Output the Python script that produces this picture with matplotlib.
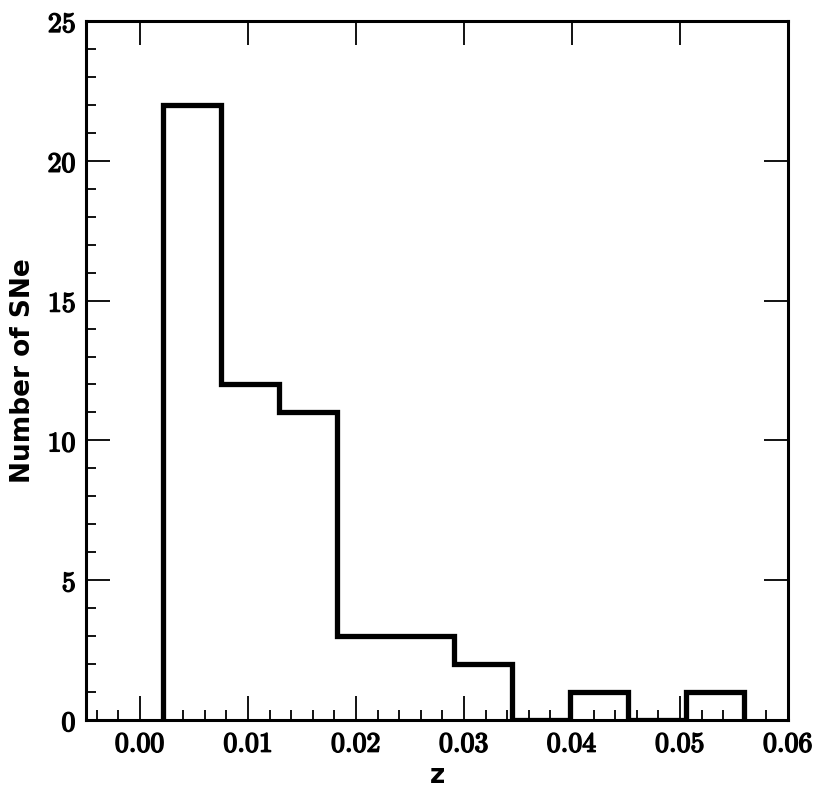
import matplotlib
matplotlib.use("Agg")
import matplotlib.pyplot as plt
import matplotlib.patheffects as pe
from matplotlib.ticker import MultipleLocator, FuncFormatter

plt.rcParams['mathtext.fontset'] = 'cm'

# Data
bin_edges = [0.00216, 0.00753, 0.01291, 0.01828, 0.02366, 0.02903,
             0.03440, 0.03978, 0.04515, 0.05053, 0.05590]
counts = [22, 12, 11, 3, 3, 2, 0, 1, 0, 1]

x_ticks = [0.00, 0.01, 0.02, 0.03, 0.04, 0.05, 0.06]
y_ticks = [0, 5, 10, 15, 20, 25]

fig = plt.figure(figsize=(8.31, 7.99), dpi=100)
ax = fig.add_axes([0.1035, 0.0989, 0.8448, 0.8748])

ax.stairs(counts, bin_edges, fill=False, color='black', linewidth=3.8,
          baseline=0)

ax.set_xlim(-0.005, 0.06)
ax.set_ylim(0, 25)
ax.set_xticks(x_ticks)
ax.set_yticks(y_ticks)
ax.xaxis.set_minor_locator(MultipleLocator(0.002))
ax.yaxis.set_minor_locator(MultipleLocator(1))

ax.xaxis.set_major_formatter(FuncFormatter(lambda v, p: r'$%.2f$' % v))
ax.yaxis.set_major_formatter(FuncFormatter(lambda v, p: r'$%d$' % round(v)))

ax.tick_params(axis='both', which='major', direction='in', length=17, width=1.3,
               labelsize=20, top=True, right=True, pad=7)
ax.tick_params(axis='both', which='minor', direction='in', length=7, width=1.3,
               top=False, right=False)

bold = [pe.withStroke(linewidth=1.1, foreground='black')]
for lab in ax.get_xticklabels() + ax.get_yticklabels():
    lab.set_path_effects(bold)

for s in ax.spines.values():
    s.set_linewidth(2.2)

ax.set_xlabel('z', fontsize=19, fontweight='bold', family='DejaVu Sans', labelpad=4)
ax.set_ylabel('Number of SNe', fontsize=19, fontweight='bold', family='DejaVu Sans',
              labelpad=8)

fig.savefig('out.png', dpi=100)
